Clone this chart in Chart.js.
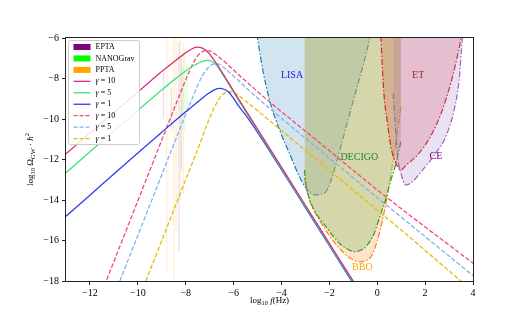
<!DOCTYPE html>
<html>
<head>
<meta charset="utf-8">
<script src="https://cdn.jsdelivr.net/npm/chart.js@4.4.0/dist/chart.umd.min.js"></script>
<style>
  html, body { margin: 0; padding: 0; background: #fff; }
  canvas { display: block; }
</style>
</head>
<body>
<canvas id="myChart" width="526" height="316"></canvas>
<script>
// x = log10 f(Hz), y = log10 Omega_GW h^2
const xTicks = [-12, -10, -8, -6, -4, -2, 0, 2, 4];
const yTicks = [-6, -8, -10, -12, -14, -16, -18];

// solid family (gamma = 10, 5, 1)
const solidG10 = [[-13,-11.72],[-12,-10.7],[-11,-9.68],[-10,-8.67],[-9.5,-8.16],[-9,-7.66],[-8.5,-7.18],[-8.1,-6.82],[-7.8,-6.58],[-7.55,-6.45],[-7.3,-6.5],[-7.05,-6.73],[-6.8,-7.12],[-6.5,-7.66],[-6,-8.62],[-5,-10.5],[-4,-12.38],[-3,-14.26],[-2,-16.14],[-0.9,-18.2]];
const solidG5 = [[-13,-12.65],[-12,-11.62],[-11,-10.6],[-10,-9.58],[-9,-8.57],[-8.5,-8.08],[-8,-7.63],[-7.6,-7.32],[-7.3,-7.15],[-7.1,-7.1],[-6.9,-7.16],[-6.7,-7.36],[-6.5,-7.72],[-6.2,-8.28],[-6,-8.68],[-5,-10.56],[-4,-12.44],[-3,-14.32],[-2,-16.2],[-0.9,-18.26]];
const solidG1 = [[-13,-14.8],[-12,-13.76],[-11,-12.72],[-10,-11.68],[-9,-10.65],[-8,-9.64],[-7.5,-9.16],[-7.1,-8.78],[-6.8,-8.56],[-6.6,-8.49],[-6.4,-8.53],[-6.2,-8.68],[-6,-8.98],[-5.8,-9.34],[-5.5,-9.8],[-5,-10.66],[-4.5,-11.57],[-4,-12.5],[-3,-14.38],[-2,-16.26],[-0.9,-18.32]];

// dashed family (gamma = 10, 5, 1)
const dashG10 = [[-11.4,-18.24],[-11,-17.04],[-10.5,-15.54],[-10,-14.04],[-9.5,-12.54],[-9,-11.04],[-8.5,-9.54],[-8.1,-8.36],[-7.8,-7.52],[-7.6,-7.06],[-7.4,-6.76],[-7.2,-6.62],[-7,-6.64],[-6.7,-6.86],[-6.3,-7.25],[-5.8,-7.8],[-5.3,-8.33],[-4.5,-9.15],[-3,-10.6],[-1.5,-12.05],[0,-13.5],[1.5,-14.88],[3,-16.22],[4.2,-17.3]];
const dashG5 = [[-10.85,-18.3],[-10.5,-17.25],[-10,-15.75],[-9.5,-14.25],[-9,-12.75],[-8.5,-11.25],[-8,-9.78],[-7.7,-8.9],[-7.5,-8.32],[-7.3,-7.86],[-7.1,-7.52],[-6.9,-7.32],[-6.75,-7.27],[-6.55,-7.33],[-6.3,-7.57],[-5.8,-8.1],[-5.33,-8.62],[-4.5,-9.47],[-3,-10.95],[-1.5,-12.42],[0,-13.88],[1.5,-15.33],[3,-16.77],[4.2,-17.93]];
const dashG1 = [[-9.77,-18.3],[-9.5,-17.5],[-9,-16],[-8.5,-14.5],[-8,-13],[-7.5,-11.5],[-7.1,-10.25],[-6.8,-9.42],[-6.55,-8.92],[-6.35,-8.7],[-6.2,-8.65],[-6,-8.7],[-5.7,-8.92],[-5.3,-9.3],[-4.5,-10.08],[-3,-11.55],[-1.5,-13.03],[0,-14.5],[1.5,-15.98],[3,-17.5],[3.8,-18.3]];

// detector sensitivity curves
const lisa = [[-5.03,-5.8],[-4.99,-6.1],[-4.78,-7.58],[-4.5,-9.06],[-4.08,-10.54],[-3.67,-11.69],[-3.25,-12.85],[-2.97,-13.42],[-2.75,-13.68],[-2.55,-13.75],[-2.35,-13.72],[-2.14,-13.59],[-1.95,-13.1],[-1.79,-12.5],[-1.45,-11.04],[-1.03,-9.22],[-0.61,-7.42],[-0.33,-6.1],[-0.3,-5.9]];
const decigo = [[-3.04,-12.52],[-2.97,-13.3],[-2.9,-13.67],[-2.7,-14.33],[-2.42,-14.9],[-2.14,-15.32],[-1.58,-16.14],[-1.25,-16.42],[-0.96,-16.55],[-0.7,-16.48],[-0.47,-16.3],[-0.125,-15.64],[0.15,-14.66],[0.36,-13.95],[0.55,-13.1],[0.78,-12.2],[0.99,-11.1]];
const bbo = [[-3.04,-12.9],[-2.95,-13.45],[-2.83,-14.0],[-2.42,-14.99],[-1.86,-15.98],[-1.3,-16.72],[-0.95,-16.98],[-0.68,-17.05],[-0.45,-16.98],[-0.26,-16.8],[0.01,-15.98],[0.22,-14.99],[0.39,-14.0],[0.64,-12.19],[0.85,-10.54],[0.99,-9.39]];
const et = [[0.15,-5.9],[0.16,-6.1],[0.22,-7.58],[0.29,-8.9],[0.43,-10.21],[0.57,-11.37],[0.78,-12.19],[0.99,-12.52],[1.19,-12.3],[1.75,-11.69],[2.3,-10.7],[2.72,-9.56],[3.07,-8.24],[3.28,-7.25],[3.49,-6.1],[3.52,-5.9]];
const ce = [[0.67,-8.73],[0.75,-10.21],[0.85,-11.86],[0.99,-12.68],[1.19,-13.26],[1.47,-13.1],[1.89,-12.52],[2.44,-11.69],[2.86,-10.88],[3.21,-9.56],[3.42,-8.07],[3.55,-6.1],[3.58,-5.9]];

// PTA posteriors as faint strips: [log10 f, top, bottom]
const eptaStrips = [[-8.92,-7.7,-10.0],[-8.28,-6.2,-16.5],[-8.18,-7.0,-12.5],[-8.6,-8.5,-10.5]];
const nanogravStrips = [[-8.05,-6.5,-10.6],[-8.13,-7.5,-9.8],[-7.95,-7.2,-9.5]];
const pptaStrips = [[-8.79,-6.0,-17.5],[-8.5,-6.0,-17.9],[-8.22,-6.0,-14.0],[-8.1,-6.3,-13.7],[-8.4,-6.0,-15.5]];

const detNames = ['LISA', 'DECIGO', 'BBO', 'ET', 'CE'];
const detLabelAt = [[-3.56,-7.83],[-0.75,-11.9],[-0.62,-17.35],[1.71,-7.83],[2.45,-11.87]];
const ptaNames = ['EPTA', 'NANOGrav', 'PPTA'];
const gammaNames = ['10', '5', '1'];

const FONT = "'Liberation Serif', serif";
Chart.defaults.font.family = FONT;

function pts(a) { return a.map(p => ({ x: p[0], y: p[1] })); }

function curve(label, data, color, dash, order) {
  return { label: label, data: pts(data), borderColor: color, backgroundColor: color,
    borderWidth: 1.3, borderDash: dash, pointRadius: 0, fill: false,
    cubicInterpolationMode: 'monotone', order: order };
}

function detector(label, data, line, area, order) {
  return { label: label, data: pts(data), borderColor: line, backgroundColor: area,
    borderWidth: 1.2, borderDash: [6, 2, 1.5, 2], pointRadius: 0, fill: 'end',
    cubicInterpolationMode: 'monotone', order: order };
}

function strips(label, list, color, order) {
  return list.map(s => ({ label: label, data: [{ x: s[0], y: s[1] }, { x: s[0], y: s[2] }],
    borderColor: color, borderWidth: 1.5, pointRadius: 0, fill: false, tension: 0, order: order }));
}

const lineColors = ['#d8307c', '#3ee37a', '#2f3ff0'];
const dashColors = ['#f04a78', '#7eb3f2', '#e2be0c'];
const ptaColors = ['#800080', '#00ff00', '#ffa500'];
const detTextColors = ['#2020e0', '#2a7f2a', '#ffa500', '#a52a2a', '#800080'];

const datasets = [
  curve('g10', solidG10, lineColors[0], [], 1),
  curve('g5', solidG5, lineColors[1], [], 2),
  curve('g1', solidG1, lineColors[2], [], 3),
  curve('g10d', dashG10, dashColors[0], [4.5, 2], 4),
  curve('g5d', dashG5, dashColors[1], [4.5, 2], 5),
  curve('g1d', dashG1, dashColors[2], [4.5, 2], 6),
  ...strips('EPTA', eptaStrips, 'rgba(128,0,128,0.13)', 7),
  ...strips('NANOGrav', nanogravStrips, 'rgba(0,255,0,0.13)', 8),
  ...strips('PPTA', pptaStrips, 'rgba(255,165,0,0.16)', 9),
  detector('CE', ce, '#9467bd', 'rgba(148,103,189,0.2)', 10),
  detector('ET', et, '#d62728', 'rgba(214,39,40,0.2)', 11),
  detector('DECIGO', decigo, '#2ca02c', 'rgba(150,197,124,0.4)', 12),
  detector('BBO', bbo, '#ff7f0e', 'rgba(255,127,14,0.22)', 13),
  detector('LISA', lisa, '#1f77b4', 'rgba(31,119,180,0.2)', 14)
];

function fmt(v) { return v < 0 ? '\u2212' + Math.abs(v) : '' + v; }

function drawRich(ctx, parts, cx, cy) {
  let w = 0;
  parts.forEach(p => { ctx.font = (p[2] ? 'italic ' : '') + p[1] + 'px ' + FONT; w += ctx.measureText(p[0]).width; });
  let xx = cx - w / 2;
  ctx.textAlign = 'left';
  ctx.textBaseline = 'middle';
  parts.forEach(p => {
    ctx.font = (p[2] ? 'italic ' : '') + p[1] + 'px ' + FONT;
    ctx.fillText(p[0], xx, cy + p[3]);
    xx += ctx.measureText(p[0]).width;
  });
}

const decor = {
  id: 'decor',
  afterDatasetsDraw(chart) {
    const ctx = chart.ctx, a = chart.chartArea, x = chart.scales.x, y = chart.scales.y;
    ctx.save();

    // detector names
    ctx.font = '10px ' + FONT;
    ctx.textAlign = 'center';
    ctx.textBaseline = 'middle';
    detNames.forEach((n, i) => {
      ctx.fillStyle = detTextColors[i];
      ctx.fillText(n, x.getPixelForValue(detLabelAt[i][0]), y.getPixelForValue(detLabelAt[i][1]));
    });

    // frame
    ctx.strokeStyle = '#222';
    ctx.lineWidth = 1;
    ctx.strokeRect(a.left - 0.5, a.top - 0.5, a.right - a.left + 1, a.bottom - a.top + 1);

    // legend
    const bx = a.left + 2.5, by = a.top + 2.5, bw = 71, bh = 104;
    ctx.fillStyle = 'rgba(255,255,255,0.85)';
    ctx.strokeStyle = '#cccccc';
    ctx.beginPath();
    ctx.roundRect(bx, by, bw, bh, 2);
    ctx.fill();
    ctx.stroke();
    const rowH = 11.45, x0 = bx + 5, x1 = bx + 22, tx = bx + 27;
    let ry = by + 6.5;
    ptaNames.forEach((n, i) => {
      ctx.fillStyle = ptaColors[i];
      ctx.fillRect(x0, ry - 3, x1 - x0, 6);
      ctx.fillStyle = '#000';
      ctx.font = '8px ' + FONT;
      ctx.textAlign = 'left';
      ctx.textBaseline = 'middle';
      ctx.fillText(n, tx, ry);
      ry += rowH;
    });
    [[lineColors, []], [dashColors, [4, 2]]].forEach(fam => {
      gammaNames.forEach((g, i) => {
        ctx.strokeStyle = fam[0][i];
        ctx.lineWidth = 1.3;
        ctx.setLineDash(fam[1]);
        ctx.beginPath();
        ctx.moveTo(x0, ry);
        ctx.lineTo(x1, ry);
        ctx.stroke();
        ctx.setLineDash([]);
        ctx.fillStyle = '#000';
        ctx.textAlign = 'left';
        ctx.textBaseline = 'middle';
        ctx.font = 'italic 8px ' + FONT;
        ctx.fillText('\u03b3', tx, ry);
        const gw = ctx.measureText('\u03b3').width;
        ctx.font = '8px ' + FONT;
        ctx.fillText(' = ' + g, tx + gw, ry);
        ry += rowH;
      });
    });

    // axis titles
    ctx.fillStyle = '#000';
    drawRich(ctx, [['log', 9, false, 0], ['10', 6.5, false, 2.5], [' ', 9, false, 0], ['f', 9, true, 0], ['(Hz)', 9, false, 0]],
      (a.left + a.right) / 2, 301);
    ctx.save();
    ctx.translate(31, (a.top + a.bottom) / 2);
    ctx.rotate(-Math.PI / 2);
    drawRich(ctx, [['log', 9, false, 0], ['10', 6.5, false, 2.5], [' \u03a9', 9, false, 0], ['GW', 6.5, false, 2.5],
      [' \u00b7 ', 9, false, 0], ['h', 9, true, 0], ['2', 6.5, false, -3.5]], 0, 0);
    ctx.restore();

    ctx.restore();
  }
};

new Chart(document.getElementById('myChart'), {
  type: 'line',
  data: { datasets: datasets },
  options: {
    responsive: false,
    animation: false,
    devicePixelRatio: 1,
    layout: { padding: { left: 0, right: 53, top: 38, bottom: 0 } },
    plugins: { legend: { display: false }, tooltip: { enabled: false } },
    scales: {
      x: {
        type: 'linear', min: -13, max: 4,
        afterBuildTicks: s => { s.ticks = xTicks.map(v => ({ value: v })); },
        afterFit: s => { s.height = 35; },
        ticks: { callback: fmt, color: '#000', font: { size: 10, family: FONT }, padding: 2, maxRotation: 0, autoSkip: false },
        grid: { drawOnChartArea: false, tickLength: 4, color: '#222', lineWidth: 1 },
        border: { display: false }
      },
      y: {
        type: 'linear', min: -18, max: -6,
        afterBuildTicks: s => { s.ticks = yTicks.map(v => ({ value: v })); },
        afterFit: s => { s.width = 66; },
        ticks: { callback: fmt, color: '#000', font: { size: 10, family: FONT }, padding: 3, autoSkip: false },
        grid: { drawOnChartArea: false, tickLength: 4, color: '#222', lineWidth: 1 },
        border: { display: false }
      }
    }
  },
  plugins: [decor]
});
</script>
</body>
</html>
